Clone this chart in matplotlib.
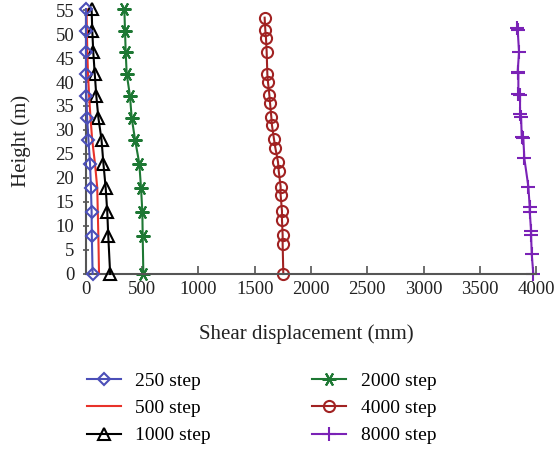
import matplotlib
matplotlib.use("Agg")
import matplotlib.pyplot as plt

plt.rcParams['font.family'] = ['Liberation Serif', 'DejaVu Serif']

# heights of the monitoring points (m)
heights = [0, 8, 13, 18, 23, 28, 32.6, 37.1, 41.7, 46.2, 50.7, 55.2]

# shear displacement (mm) at each height, per calculation step
disp_250 = [59, 52, 50, 44, 36, 22, 10, 4, 0, 0, 0, 0]
disp_500 = [116, 110, 105, 100, 80, 55, 40, 28, 18, 12, 8, 5]
disp_1000 = [215, 198, 189, 175, 155, 138, 110, 92, 78, 65, 56, 50]
disp_2000 = [510, 504, 501, 489, 474, 436, 406, 391, 362, 353, 347, 341]

heights_4000 = [0, 6.2, 8.1, 11.3, 13.1, 16.5, 18.2, 21.5, 23.3, 26.3, 28.1,
                31.0, 32.8, 35.6, 37.3, 39.9, 41.6, 46.3, 49.1, 50.8, 53.4]
disp_4000 = [1754, 1748, 1748, 1742, 1742, 1730, 1730, 1713, 1707, 1683, 1671,
             1653, 1647, 1636, 1630, 1618, 1612, 1606, 1600, 1594, 1588]

heights_8000 = [0, 4.1, 8.1, 9.0, 13.0, 13.9, 18.2, 24.1, 28.3, 28.6, 32.8,
                33.3, 37.3, 37.6, 41.8, 42.1, 46.3, 50.8, 51.3]
disp_8000 = [3976, 3962, 3956, 3956, 3944, 3944, 3932, 3896, 3887, 3873, 3867,
             3858, 3858, 3843, 3843, 3837, 3849, 3837, 3831]

labels = ["250 step", "500 step", "1000 step", "2000 step", "4000 step", "8000 step"]
x_ticks = [0, 500, 1000, 1500, 2000, 2500, 3000, 3500, 4000]
y_ticks = [0, 5, 10, 15, 20, 25, 30, 35, 40, 45, 50, 55]

fig = plt.figure(figsize=(5.59, 4.51), dpi=100)
ax = fig.add_axes([0.1538, 0.3925, 0.8051, 0.5885])

lw = 1.5
h1, = ax.plot(disp_250, heights, color='#4b4fb8', lw=lw, marker='D', ms=6,
              mfc='none', mew=1.5, clip_on=False, zorder=5)
h2, = ax.plot(disp_500, heights, color='#e8322a', lw=lw, clip_on=False, zorder=4)
h3, = ax.plot(disp_1000, heights, color='black', lw=lw, marker='^', ms=9,
              mfc='none', mew=1.5, clip_on=False, zorder=3)
h4, = ax.plot(disp_2000, heights, color='#1e7834', lw=lw, marker=(6, 2, 90), ms=10,
              mew=1.5, clip_on=False)
h5, = ax.plot(disp_4000, heights_4000, color='#a12222', lw=lw, marker='o', ms=8,
              mfc='none', mew=1.5, clip_on=False)
h6, = ax.plot(disp_8000, heights_8000, color='#7a22b6', lw=lw, marker='+', ms=10,
              mew=1.5, clip_on=False)

ax.set_xlim(0, 4000)
ax.set_ylim(0, 55.3)
ax.set_xticks(x_ticks)
ax.set_yticks(y_ticks)

for side in ['top', 'right']:
    ax.spines[side].set_visible(False)
for side in ['left', 'bottom']:
    ax.spines[side].set_color('#555555')
    ax.spines[side].set_linewidth(1.5)

ax.tick_params(axis='x', direction='in', length=6, width=1.2, color='#555555',
               labelsize=13.5, pad=5, labelcolor='#222222')
ax.tick_params(axis='y', direction='inout', length=5, width=1.2, color='#555555',
               labelsize=13.5, pad=6, labelcolor='#222222')

ax.set_xlabel("Shear displacement (mm)", fontsize=15, color='#222222')
ax.xaxis.set_label_coords(0.49, -0.19)
ax.set_ylabel("Height (m)", fontsize=15, color='#222222')
ax.yaxis.set_label_coords(-0.123, 0.5)

# legend split into two columns placed under the axes
leg_kw = dict(frameon=False, fontsize=14, handlelength=1.75, handletextpad=0.75,
              labelspacing=0.5, borderpad=0, borderaxespad=0, loc='upper left')
leg1 = fig.legend([h1, h2, h3], labels[:3], bbox_to_anchor=(0.155, 0.175), **leg_kw)
leg2 = fig.legend([h4, h5, h6], labels[3:], bbox_to_anchor=(0.558, 0.175), **leg_kw)

fig.savefig("out.png", dpi=100)
